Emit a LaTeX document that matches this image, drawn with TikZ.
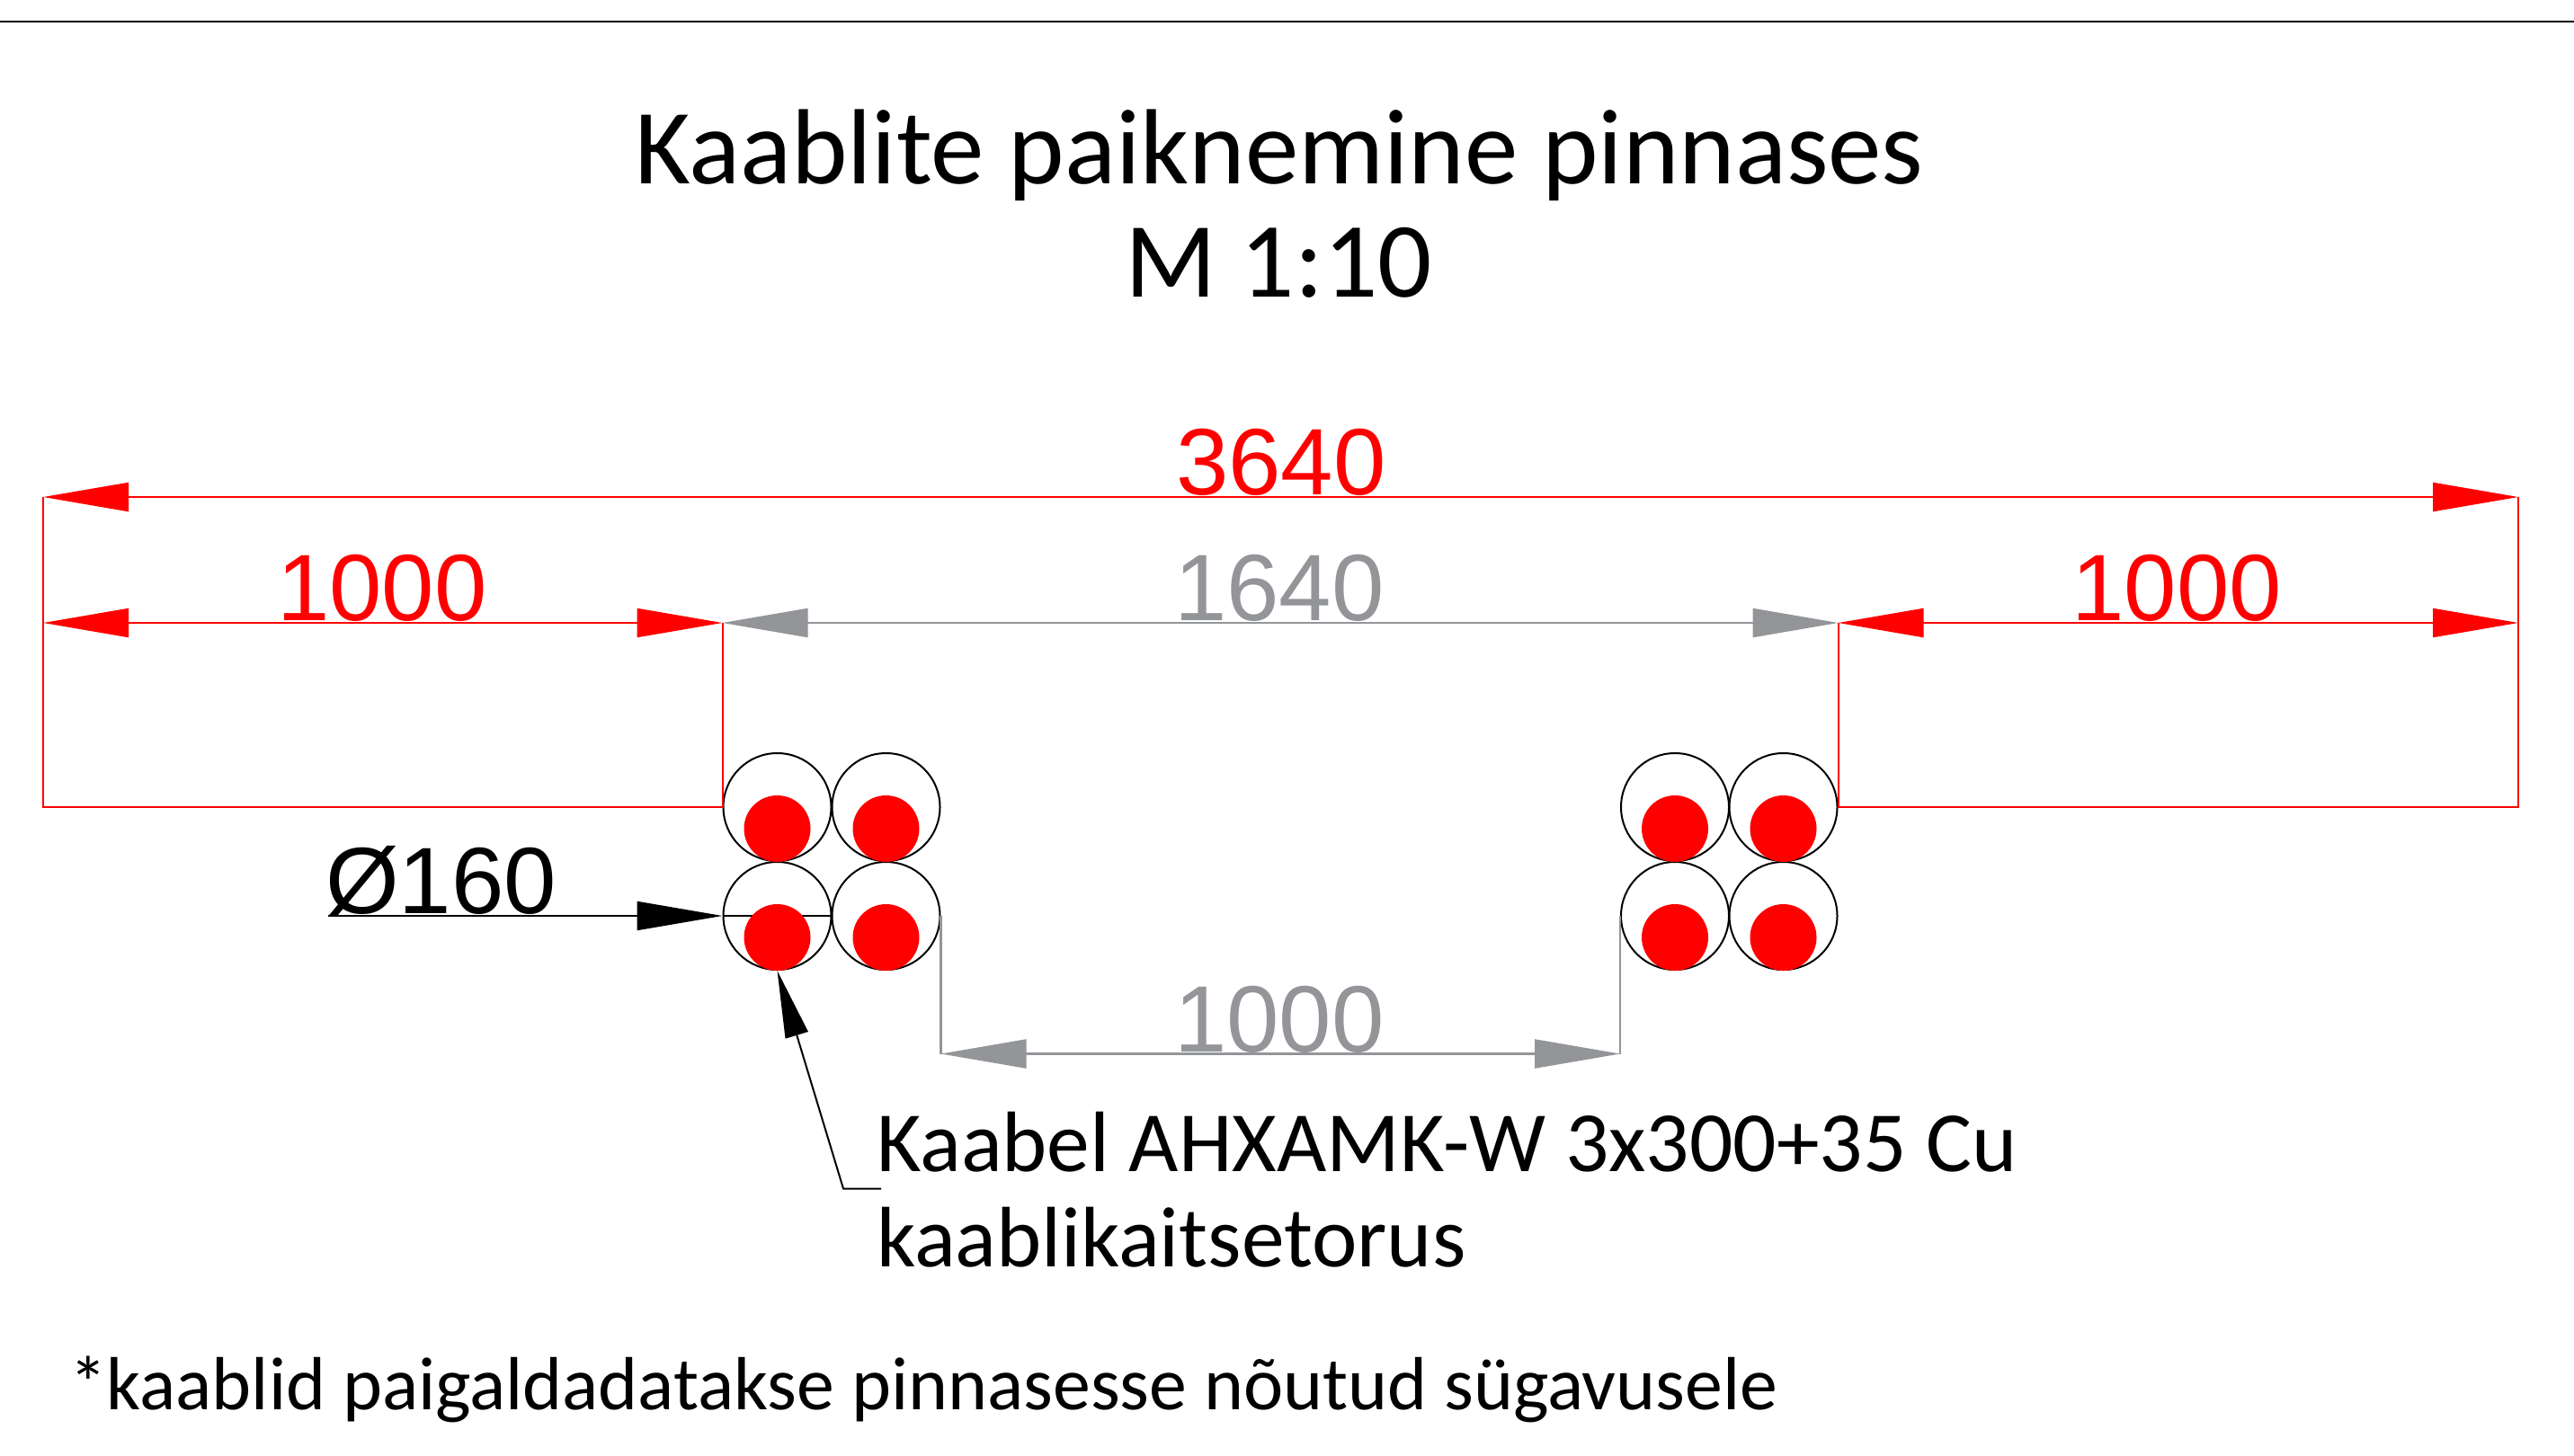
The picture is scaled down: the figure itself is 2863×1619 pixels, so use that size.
\documentclass[tikz,border=0pt]{standalone}
\usepackage{fontspec}
\setmainfont{Carlito}
\newfontfamily\dimfont{Liberation Sans}
\usetikzlibrary{arrows.meta}
\definecolor{dimgrey}{HTML}{939598}
\tikzset{
  x=1pt,y=-1pt,
  pipe/.style={circle,draw=black,line width=2pt,minimum size=120pt,inner sep=0pt,fill=none},
  core/.style={circle,fill=red,minimum size=74pt,inner sep=0pt,draw=none},
  dimtip/.style={-{Triangle[length=95pt,width=32pt]}},
  dimtips/.style={{Triangle[length=95pt,width=32pt]}-{Triangle[length=95pt,width=32pt]}},
  reddim/.style={draw=red,line width=2.2pt,dimtips},
  greydim/.style={draw=dimgrey,line width=2.2pt,dimtips},
  redext/.style={draw=red,line width=2pt},
  greyext/.style={draw=dimgrey,line width=2.2pt},
  dimtext/.style={font=\dimfont\fontsize{105}{105}\selectfont,inner sep=0pt,anchor=base},
  bigtext/.style={inner sep=0pt,anchor=base,font=\fontsize{119}{119}\selectfont},
  labeltext/.style={inner sep=0pt,anchor=base west,font=\fontsize{95.5}{95.5}\selectfont},
  notetext/.style={inner sep=0pt,anchor=base west,font=\fontsize{83.8}{83.8}\selectfont}
}
\begin{document}
\begin{tikzpicture}
\useasboundingbox (0,0) rectangle (2863,1619);
\coordinate (tl) at (0,24); \coordinate (tr) at (2863,24);
\draw[line width=2pt] (tl) -- (tr);
% titles
\node[bigtext] (t1) at (1423,204) {Kaablite paiknemine pinnases};
\node[bigtext] (t2) at (1422,330) {M 1:10};
% pipes
\foreach \n/\x/\y in {a/864.5/898,b/985.5/898,c/864.5/1019,d/985.5/1019,
                      e/1863/898,f/1983.5/898,g/1863/1019,h/1983.5/1019}{
  \node[pipe] (\n) at (\x,\y) {};
}
\draw[line width=2pt] (c.west) -- (c.east);
\foreach \n/\x/\y in {a/864.5/922,b/985.5/922,c/864.5/1043,d/985.5/1043,
                      e/1863/922,f/1983.5/922,g/1863/1043,h/1983.5/1043}{
  \node[core] (r\n) at (\x,\y) {};
}
% dimension points
\coordinate (L1) at (48,553);   \coordinate (R1) at (2801,553);
\coordinate (L2) at (48,693); \coordinate (M2) at (a.west |- L2);
\coordinate (N2) at (f.east |- L2); \coordinate (R2) at (2801,693);
\coordinate (L3) at (48,898);   \coordinate (R3) at (2801,898);
\coordinate (G1) at (d.east |- 0,1172.5); \coordinate (G2) at (g.west |- 0,1172.5);
\coordinate (D1) at (365,1019);
\coordinate (K1) at (938,1322.5); \coordinate (K2) at (980,1322.5);
% extension lines
\draw[redext] (M2) -- (a.west) -- (L3) -- (L1);
\draw[redext] (N2) -- (f.east) -- (R3) -- (R1);
\draw[greyext] (d.east) -- (G1);
\draw[greyext] (g.west) -- (G2);
% dimensions
\draw[reddim] (L1) -- (R1);
\draw[reddim] (L2) -- (M2);
\draw[greydim] (M2) -- (N2);
\draw[reddim] (N2) -- (R2);
\draw[greydim] (G1) -- (G2);
\draw[draw=black,line width=2pt,dimtip] (D1) -- (c.west);
\draw[draw=black,line width=2pt,-{Triangle[length=75pt,width=26pt]}] (K2) -- (K1) -- (c.south);
% dimension texts
\node[dimtext,text=red] (d3640) at (1425,550) {3640};
\node[dimtext,text=red] (d1000a) at (425,690) {1000};
\node[dimtext,text=dimgrey] (d1640) at (1423,690) {1640};
\node[dimtext,text=red] (d1000b) at (2421,690) {1000};
\node[dimtext,text=dimgrey] (d1000c) at (1423,1170) {1000};
\node[dimtext,text=black,anchor=base west] (dia) at (362,1016) {Ø160};
% labels
\node[labeltext] (l1) at (975,1303) {Kaabel AHXAMK-W 3x300+35 Cu};
\node[labeltext] (l2) at (975,1409) {kaablikaitsetorus};
\node[notetext] (n1) at (77,1568) {*kaablid paigaldadatakse pinnasesse nõutud sügavusele};
\end{tikzpicture}
\end{document}
